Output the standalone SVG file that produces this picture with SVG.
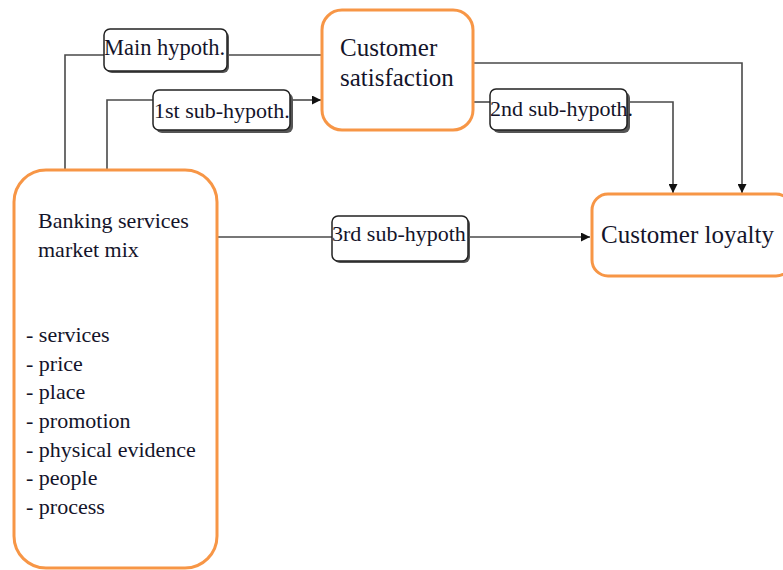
<svg xmlns="http://www.w3.org/2000/svg" width="783" height="570" viewBox="0 0 783 570">
  <style>
    .node { fill: #ffffff; stroke: #F79646; stroke-width: 3; }
    .lbl { fill: #ffffff; stroke: #222222; stroke-width: 1.5; }
    .shadow { fill: #555555; }
    .conn { fill: none; stroke: #4a4a4a; stroke-width: 1.6; }
    text { font-family: "Liberation Serif", "Times New Roman", serif; fill: #14142a; }
    .big { font-size: 25px; }
    .mid { font-size: 22px; }
    .sm { font-size: 22px; }
  </style>
  <defs>
    <marker id="arr" viewBox="0 0 10 10" refX="10" refY="5" markerWidth="10" markerHeight="9" markerUnits="userSpaceOnUse" orient="auto">
      <path d="M0,0 L10,5 L0,10 z" fill="#111111"/>
    </marker>
  </defs>
  <rect width="783" height="570" fill="#ffffff"/>

  <g id="connectors">
    <polyline class="conn" points="65,170 65,55 104,55"/>
    <line class="conn" x1="227" y1="55" x2="322" y2="55"/>
    <polyline class="conn" points="107,170 107,100 153,100"/>
    <line class="conn" x1="290" y1="100" x2="321" y2="100" marker-end="url(#arr)"/>
    <polyline class="conn" points="473,63 742,63 742,193" marker-end="url(#arr)"/>
    <line class="conn" x1="473" y1="102" x2="490" y2="102"/>
    <polyline class="conn" points="627,102 673,102 673,193" marker-end="url(#arr)"/>
    <line class="conn" x1="218" y1="237" x2="332" y2="237"/>
    <line class="conn" x1="468" y1="237" x2="590" y2="237" marker-end="url(#arr)"/>
  </g>

  <g id="banking-mix">
    <rect class="node" x="14" y="170" width="203" height="398" rx="32" ry="32"/>
    <text class="mid" x="38" y="228">Banking services</text>
    <text class="mid" x="38" y="257">market mix</text>
    <text class="mid" x="26" y="342">- services</text>
    <text class="mid" x="26" y="371">- price</text>
    <text class="mid" x="26" y="399">- place</text>
    <text class="mid" x="26" y="428">- promotion</text>
    <text class="mid" x="26" y="457">- physical evidence</text>
    <text class="mid" x="26" y="485">- people</text>
    <text class="mid" x="26" y="514">- process</text>
  </g>

  <g id="customer-satisfaction">
    <rect class="node" x="322" y="10" width="151" height="120" rx="20" ry="20"/>
    <text class="big" x="340" y="56">Customer</text>
    <text class="big" x="340" y="86">satisfaction</text>
  </g>

  <g id="customer-loyalty">
    <rect class="node" x="592" y="194" width="200" height="82" rx="16" ry="16"/>
    <text class="big" x="601" y="243">Customer loyalty</text>
  </g>

  <g id="main-hypoth">
    <rect class="shadow" x="106" y="31" width="123" height="42" rx="6"/>
    <rect class="lbl" x="104" y="29" width="123" height="42" rx="6"/>
    <text class="sm" x="104" y="55" style="font-size:22.5px">Main hypoth.</text>
  </g>

  <g id="sub-hypoth-1">
    <rect class="shadow" x="156" y="93" width="137" height="40" rx="6"/>
    <rect class="lbl" x="153" y="90" width="137" height="40" rx="6"/>
    <text class="sm" x="154" y="118">1st sub-hypoth.</text>
  </g>

  <g id="sub-hypoth-2">
    <rect class="shadow" x="493" y="92" width="137" height="41" rx="6"/>
    <rect class="lbl" x="490" y="89" width="137" height="41" rx="6"/>
    <text class="sm" x="490" y="116">2nd sub-hypoth.</text>
  </g>

  <g id="sub-hypoth-3">
    <rect class="shadow" x="334" y="218" width="136" height="45" rx="6"/>
    <rect class="lbl" x="332" y="216" width="136" height="45" rx="6"/>
    <text class="sm" x="332" y="241">3rd sub-hypoth</text>
  </g>
</svg>
